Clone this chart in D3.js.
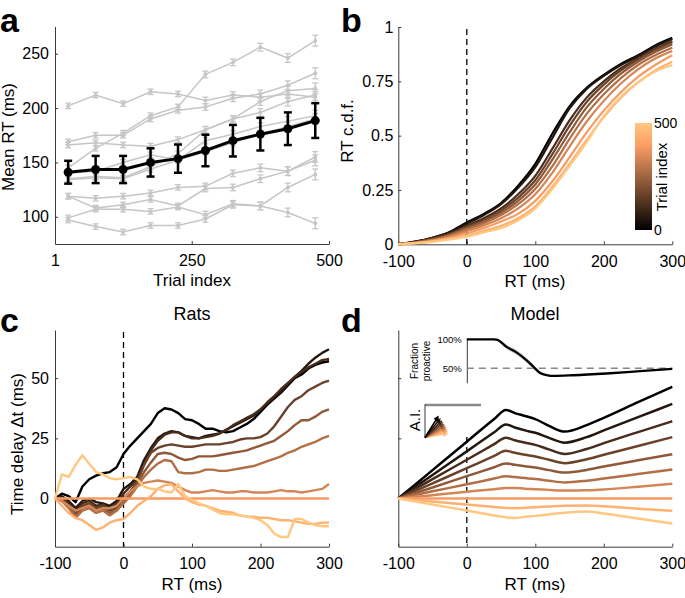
<!DOCTYPE html>
<html><head><meta charset="utf-8">
<script src="https://cdn.jsdelivr.net/npm/d3@7"></script>
<style>body{margin:0;background:#fff}svg{display:block}</style>
</head><body><svg id="fig" width="685" height="598"></svg>
<script>
// ---------------- DATA ----------------
// Panel a
const trialBins = [25, 75, 125, 175, 225, 275, 325, 375, 425, 475];
const trialTicks = [1, 250, 500];
const meanRTTicks = [100, 150, 200, 250];
const meanRT = [141, 143.5, 143.5, 150, 153.5, 161, 170, 176, 181, 188.5];
const meanErr = [10.5, 12.5, 12.5, 13, 13, 14.5, 14.5, 15, 15, 16];
const ratRT = [
  [202, 212, 204, 215, 213, 207, 212, 210, 213, 210],
  [145, 163, 177, 193, 201, 231, 242, 256, 246, 262],
  [169, 175, 175, 190, 198, 201, 209, 213, 221, 232],
  [166, 168, 166, 165, 171, 180, 190, 206, 216, 218],
  [135, 137, 136, 146, 158, 180, 190, 196, 206, 212],
  [140, 142, 150, 157, 152, 170, 176, 183, 188, 193],
  [134, 136, 135, 144, 152, 160, 168, 176, 183, 190],
  [119, 117, 119, 122, 127, 128, 140, 145, 142, 155],
  [119, 108, 111, 116, 110, 126, 127, 135, 142, 152],
  [99, 107, 107, 105, 109, 102, 112, 110, 104, 94],
  [97, 91, 86, 92, 92, 98, 111, 110, 127, 139]
];
const ratErr = [2.5, 2.5, 2.5, 2.5, 2.5, 3, 3, 3.5, 4, 5];

// Panel b
const cdfRT = [-100, -75, -50, -25, 0, 25, 50, 75, 100, 125, 150, 175, 200, 225, 250, 275, 300];
const rtTicks = [-100, 0, 100, 200, 300];
const cdfTicks = [0, 0.25, 0.5, 0.75, 1];
const cdfTickLabels = ["0", "0.25", "0.5", "0.75", "1"];
const cdf = [
  [0, 0.012, 0.03, 0.057, 0.10, 0.14, 0.19, 0.27, 0.37, 0.51, 0.635, 0.72, 0.78, 0.83, 0.87, 0.915, 0.95],
  [0, 0.012, 0.03, 0.055, 0.095, 0.135, 0.185, 0.26, 0.355, 0.49, 0.625, 0.715, 0.775, 0.825, 0.865, 0.91, 0.945],
  [0, 0.01, 0.027, 0.05, 0.085, 0.12, 0.165, 0.23, 0.315, 0.44, 0.57, 0.675, 0.75, 0.81, 0.855, 0.9, 0.935],
  [0, 0.01, 0.025, 0.047, 0.08, 0.112, 0.155, 0.215, 0.295, 0.415, 0.545, 0.655, 0.735, 0.80, 0.85, 0.895, 0.93],
  [0, 0.009, 0.023, 0.043, 0.075, 0.105, 0.145, 0.2, 0.275, 0.39, 0.515, 0.63, 0.715, 0.785, 0.84, 0.885, 0.92],
  [0, 0.008, 0.02, 0.04, 0.068, 0.097, 0.135, 0.185, 0.255, 0.36, 0.485, 0.6, 0.69, 0.765, 0.825, 0.87, 0.905],
  [0, 0.007, 0.018, 0.035, 0.06, 0.087, 0.12, 0.165, 0.23, 0.33, 0.45, 0.565, 0.66, 0.74, 0.805, 0.855, 0.89],
  [0, 0.006, 0.015, 0.03, 0.05, 0.075, 0.105, 0.14, 0.2, 0.29, 0.4, 0.515, 0.615, 0.70, 0.77, 0.825, 0.87],
  [0, 0.005, 0.013, 0.025, 0.04, 0.062, 0.085, 0.12, 0.175, 0.265, 0.37, 0.48, 0.585, 0.675, 0.745, 0.8, 0.84],
  [0, 0.005, 0.012, 0.022, 0.035, 0.055, 0.075, 0.11, 0.165, 0.255, 0.36, 0.47, 0.59, 0.68, 0.745, 0.795, 0.825]
];
const colorbarLabels = [0, 500];

// Panel c
const delayTicks = [0, 25, 50];
const ratDelay = [
  [0,2,1,-1.5,5,8,9.5,10.5,11,13,18.5,22,25,28,31,35.5,37.5,37,35.5,33,32.5,31,29,29,28,27.5,28,29.5,31,33,36,39,41.5,44,47,50,51.5,54,55.5,56.5,57],
  [0,1,-1,-4,-1,0,-1.5,-2,-3,-1,4,6,9,16,21,25,27,28,27.5,26,25.5,25,26,26.5,27,28.5,30,31.5,33,34.5,37,39.5,42,44.5,47.5,50.5,53,56,58.5,60.5,62],
  [0,0.5,-2,-5,-2,-1,-3,-2.5,-4,-2,2,5,8,14,20,24,26.5,27.5,27.5,26,25,25,25.5,26,27,28.5,30.5,32,33.5,35,37,40,42.5,45.5,48,50.5,52.5,54.5,56,57.5,58],
  [0,0,-3,-6,-3,-2,-4,-3,-5,-4,0,3,7,14,19,21,22,22.5,22,21.5,21.5,22,22.5,22.5,22.5,23,23.5,24.5,25,25,25.5,27,30,34,38,41,42.5,45,46.5,48,49],
  [0,-1,-3,-7,-4,-3,-5,-4,-6,-5,-1,2,6,11,15,18.5,19,18.5,17,16,16.5,17.5,17.5,17.5,18,18.5,19,19.5,20,21,22,23,24,26,28,30.5,32.5,32.5,34,36,37],
  [0,-1,-4,-8,-5,-4,-6,-5,-7,-5,-2,1,5,9,12,14.5,16,15.5,11,10.5,10.5,11,12,12,11.5,11.5,12,12.5,13,13.5,14.5,15.5,16.5,17.5,19,20,21.5,22.5,23.5,25,26],
  [0,-1,-3,-5,-4,-3,-5,-4,-4,-3,0,3,5,6.5,7,7.5,7,6.5,5,3.5,2.5,2.5,3,3.5,3,2.5,2.5,3,3,2.5,2.5,2.5,3,3.5,3,3,2.5,3,3.5,4,6],
  null, // reference group (flat at zero), drawn from ratRef
  [0,-3,-6,-8,-9,-11,-13,-12,-10,-9,-8.5,-6,-3,-1,1,4,5.5,6,3,0,-1.5,-2.5,-3,-4,-5,-5.5,-6,-7,-7.5,-7.5,-8,-8,-8.5,-9,-9,-9.5,-10,-10.5,-10.5,-10,-10],
  [0,10,9,14,18,14.5,11,10,8.5,8,8.5,9,8,5,4,4,3,2.5,6,1,-0.5,-2,-3,-4.5,-6,-6.5,-6.5,-7,-7.5,-8,-9,-11,-14.5,-16,-16,-8.5,-8.5,-10,-11,-11.5,-11.5]
];
const ratRefRT = [-100, 300];
const ratRef = [0, 0];

// Panel d
const modelRT = [-100, -50, 0, 40, 57, 70, 85, 100, 120, 143, 175, 200, 250, 300];
const modelDelay = [
  [0, 11.8, 23.6, 33.0, 36.8, 35.5, 34.3, 33.0, 30.2, 27.8, 30.5, 33.5, 40.0, 46.4],
  [0, 9.8, 19.6, 27.5, 30.8, 29.5, 28.3, 27.3, 25.2, 23.2, 25.5, 28.3, 33.8, 39.3],
  [0, 8.1, 16.1, 22.6, 25.3, 24.2, 23.2, 22.3, 20.4, 18.5, 20.6, 23.0, 27.6, 32.1],
  [0, 6.3, 12.6, 17.7, 19.8, 19.0, 18.2, 17.5, 16.1, 14.7, 16.3, 18.2, 21.8, 25.5],
  [0, 4.6, 9.3, 13.0, 14.6, 14.0, 13.4, 12.9, 11.8, 10.8, 11.9, 13.3, 15.9, 18.4],
  [0, 3.0, 5.9, 8.3, 9.3, 8.9, 8.5, 8.1, 7.4, 6.7, 7.4, 8.3, 10.2, 12.1],
  [0, 1.4, 2.8, 3.9, 4.4, 4.4, 4.1, 3.9, 3.6, 3.3, 3.4, 3.8, 4.9, 6.1],
  [0, 0, 0, 0, 0, 0, 0, 0, 0, 0, 0, 0, 0, 0],
  [0, -1.2, -2.5, -3.5, -3.9, -4.0, -3.8, -3.6, -3.3, -3.0, -2.9, -3.2, -4.2, -5.1],
  [0, -2.5, -5.0, -7.0, -7.8, -8.1, -7.6, -7.2, -6.6, -5.9, -5.4, -6.2, -8.3, -10.4]
];
const fracRT = [0, 40, 45, 58, 73, 87, 97, 107, 118, 126, 155, 204, 253, 300];
const fracProactive = [100, 100, 99, 87, 77, 64, 53, 42, 38, 37, 38, 41, 45, 49];
const fracLo = [100, 100, 97.5, 83, 72.5, 59.5, 49, 39.5, 37, 36.5, 37.5, 40.5, 44.5, 48.5];
const fracHi = [100, 100, 100, 91, 82, 68.5, 57, 44.5, 39, 37.5, 38.5, 41.5, 45.5, 49.5];
const fracTicks = [50, 100];
const fracTickLabels = ["50%", "100%"];
const aiAngles = [58, 51, 45, 40, 35, 30, 25, 20, 15, 10];   // degrees
const aiLengths = [26, 25, 24.5, 24, 24, 24, 24, 24, 24, 24];

// ---------------- DRAWING ----------------
const FONT = '"Liberation Sans", Arial, Helvetica, sans-serif';
const AX = "#3a3a3a";
const svg = d3.select("#fig").attr("font-family", FONT);
svg.append("rect").attr("width", 685).attr("height", 598).attr("fill", "#fff");

function copper(t) { return d3.rgb(Math.min(1, 1.25 * t) * 255, 0.7812 * t * 255, 0.4975 * t * 255).formatHex(); }
const lineColors = d3.range(10).map(i => copper(i / 9));

function styleAxis(a, fs) {
  a.select(".domain").attr("stroke", AX).attr("stroke-width", 1);
  a.selectAll(".tick line").attr("stroke", AX);
  a.selectAll(".tick text").attr("fill", "#000").attr("font-size", fs).attr("font-family", FONT);
}
function xAxis(scale, y, ticks, fmt) {
  const a = svg.append("g").attr("transform", `translate(0,${y})`)
    .call(d3.axisBottom(scale).tickValues(ticks).tickFormat(fmt).tickSizeInner(-3).tickSizeOuter(0).tickPadding(11));
  styleAxis(a, 16); return a;
}
function yAxis(scale, x, ticks, fmt, pad, fs) {
  const a = svg.append("g").attr("transform", `translate(${x},0)`)
    .call(d3.axisLeft(scale).tickValues(ticks).tickFormat(fmt).tickSizeInner(-3).tickSizeOuter(0).tickPadding(pad));
  styleAxis(a, fs || 16); return a;
}
function text(x, y, s, o) {
  o = o || {};
  const t = svg.append("text").attr("x", x).attr("y", y).text(s)
    .attr("font-size", o.size || 17).attr("text-anchor", o.anchor || "middle")
    .attr("font-weight", o.bold ? "bold" : "normal").attr("fill", "#000");
  return t;
}
function vtext(x, y, s, size) {
  return svg.append("text").attr("transform", `translate(${x},${y}) rotate(-90)`).text(s)
    .attr("font-size", size || 17).attr("text-anchor", "middle").attr("fill", "#000");
}

// ===== Panel a =====
const xA = d3.scaleLinear([1, 500], [55, 329]);
const yA = d3.scaleLinear([75, 275], [244, 26.5]);
xAxis(xA, 244, trialTicks, d => String(d));
yAxis(yA, 55, meanRTTicks, d => String(d), 6);
text(192, 286, "Trial index");
vtext(14, 137, "Mean RT (ms)");
text(0, 32, "a", { size: 34, bold: true, anchor: "start" });

const lineA = d3.line().x((d, i) => xA(trialBins[i])).y(d => yA(d));
function errBars(g, vals, errs, color, w, cap) {
  vals.forEach((v, i) => {
    const x = xA(trialBins[i]);
    g.append("line").attr("x1", x).attr("x2", x).attr("y1", yA(v - errs[i])).attr("y2", yA(v + errs[i])).attr("stroke", color).attr("stroke-width", w);
    [v - errs[i], v + errs[i]].forEach(e => g.append("line").attr("x1", x - cap).attr("x2", x + cap).attr("y1", yA(e)).attr("y2", yA(e)).attr("stroke", color).attr("stroke-width", w));
  });
}
const gGray = svg.append("g");
ratRT.forEach(r => {
  gGray.append("path").attr("d", lineA(r)).attr("fill", "none").attr("stroke", "#c6c6c6").attr("stroke-width", 1.5);
  errBars(gGray, r, ratErr, "#c6c6c6", 1.3, 3);
  r.forEach((v, i) => gGray.append("circle").attr("cx", xA(trialBins[i])).attr("cy", yA(v)).attr("r", 2).attr("fill", "#c6c6c6"));
});
const gMean = svg.append("g");
gMean.append("path").attr("d", lineA(meanRT)).attr("fill", "none").attr("stroke", "#000").attr("stroke-width", 3);
errBars(gMean, meanRT, meanErr, "#000", 2.5, 4);
meanRT.forEach((v, i) => gMean.append("circle").attr("cx", xA(trialBins[i])).attr("cy", yA(v)).attr("r", 4.5).attr("fill", "#000"));

// ===== Panel b =====
const xB = d3.scaleLinear([-100, 300], [398.3, 672.3]);
const yB = d3.scaleLinear([0, 1], [244.3, 27]);
xAxis(xB, 244.3, rtTicks, d => String(d));
yAxis(yB, 398.3, cdfTicks, (d, i) => cdfTickLabels[i], 5);
text(535, 287, "RT (ms)");
vtext(353, 131, "RT c.d.f.");
text(341, 32, "b", { size: 34, bold: true, anchor: "start" });
svg.append("line").attr("x1", xB(0)).attr("x2", xB(0)).attr("y1", 29).attr("y2", yB(0))
  .attr("stroke", "#000").attr("stroke-width", 1.3).attr("stroke-dasharray", "6,4");
const lineB = d3.line().x((d, i) => xB(cdfRT[i])).y(d => yB(d)).curve(d3.curveMonotoneX);
cdf.forEach((c, i) => svg.append("path").attr("d", lineB(c)).attr("fill", "none").attr("stroke", lineColors[i]).attr("stroke-width", 2.2));

// colorbar
const defs = svg.append("defs");
const grad = defs.append("linearGradient").attr("id", "copperGrad").attr("x1", 0).attr("y1", 1).attr("x2", 0).attr("y2", 0);
d3.range(0, 1.0001, 0.1).forEach(t => grad.append("stop").attr("offset", t).attr("stop-color", copper(t)));
const yCb = d3.scaleLinear([0, 500], [230, 123]);
svg.append("rect").attr("x", 635).attr("y", yCb(500)).attr("width", 17).attr("height", yCb(0) - yCb(500)).attr("fill", "url(#copperGrad)");
colorbarLabels.forEach(v => text(654, yCb(v) + 5, String(v), { size: 14, anchor: "start" }));
vtext(667, 177, "Trial index", 15);

// ===== Panel c =====
const xC = d3.scaleLinear([-100, 300], [55, 329]);
const yC = d3.scaleLinear([-20, 70], [546.7, 330]);
xAxis(xC, 546.7, rtTicks, d => String(d));
yAxis(yC, 55, delayTicks, d => String(d), 6);
text(192, 590, "RT (ms)");
text(192, 320, "Rats", { size: 18 });
vtext(23, 444, "Time delay \u0394t (ms)");
text(0, 332, "c", { size: 34, bold: true, anchor: "start" });
svg.append("line").attr("x1", xC(0)).attr("x2", xC(0)).attr("y1", 332).attr("y2", 546.7)
  .attr("stroke", "#000").attr("stroke-width", 1.3).attr("stroke-dasharray", "6,4");
const lineC = d3.line().x((d, i) => xC(-100 + 10 * i)).y(d => yC(d));
ratDelay.forEach((r, i) => {
  if (r === null) {
    svg.append("path").attr("d", d3.line().x((d, j) => xC(ratRefRT[j])).y(d => yC(d))(ratRef))
      .attr("fill", "none").attr("stroke", lineColors[i]).attr("stroke-width", 2.6);
  } else {
    svg.append("path").attr("d", lineC(r)).attr("fill", "none").attr("stroke", lineColors[i]).attr("stroke-width", 2.4).attr("stroke-linejoin", "round");
  }
});

// ===== Panel d =====
const xD = d3.scaleLinear([-100, 300], [398.3, 672.3]);
const yD = d3.scaleLinear([-20, 70], [546.7, 330]);
xAxis(xD, 546.7, rtTicks, d => String(d));
yAxis(yD, 398.3, [25, 50], () => "", 6);
text(535, 590, "RT (ms)");
text(535, 320, "Model", { size: 18 });
text(341, 332, "d", { size: 34, bold: true, anchor: "start" });
svg.append("line").attr("x1", xD(0)).attr("x2", xD(0)).attr("y1", 437).attr("y2", 546.7)
  .attr("stroke", "#000").attr("stroke-width", 1.3).attr("stroke-dasharray", "6,4");
const lineD = d3.line().x((d, i) => xD(modelRT[i])).y(d => yD(d)).curve(d3.curveMonotoneX);
modelDelay.forEach((m, i) => svg.append("path").attr("d", lineD(m)).attr("fill", "none").attr("stroke", lineColors[i]).attr("stroke-width", 2.5));

// inset: fraction proactive
const yI = d3.scaleLinear([25, 100], [382.8, 339.3]);
const ai = yAxis(yI, xD(0), fracTicks, (d, i) => fracTickLabels[i], 5, 9.5);
ai.selectAll(".tick line").remove();
svg.append("line").attr("x1", xD(0)).attr("x2", xD(300)).attr("y1", yI(50)).attr("y2", yI(50))
  .attr("stroke", "#888").attr("stroke-width", 1.4).attr("stroke-dasharray", "7,5");
svg.append("path").attr("d", d3.area().x((d, i) => xD(fracRT[i])).y0((d, i) => yI(fracLo[i])).y1(d => yI(d[1])).curve(d3.curveMonotoneX)(fracHi.map((h, i) => [i, h])))
  .attr("fill", "#d9d9d9");
svg.append("path").attr("d", d3.line().x((d, i) => xD(fracRT[i])).y(d => yI(d)).curve(d3.curveMonotoneX)(fracProactive))
  .attr("fill", "none").attr("stroke", "#000").attr("stroke-width", 2.3);
vtext(418, 361, "Fraction", 10);
vtext(430, 361, "proactive", 10);

// inset: A.I. arrows
const aiOrigin = [425, 437.5];
svg.append("line").attr("x1", 425).attr("x2", 481).attr("y1", 405).attr("y2", 405).attr("stroke", "#8a8a8a").attr("stroke-width", 2.5);
svg.append("line").attr("x1", 425).attr("x2", 425).attr("y1", 404).attr("y2", 438).attr("stroke", AX).attr("stroke-width", 1);
vtext(420, 420, "A.I.", 15);
aiAngles.slice().reverse().forEach((ang, k) => {
  const i = aiAngles.length - 1 - k;
  const a = ang * Math.PI / 180, L = aiLengths[i];
  const tx = aiOrigin[0] + L * Math.cos(a), ty = aiOrigin[1] - L * Math.sin(a);
  const hl = 5.5, hw = 2.8;
  const bx = tx - hl * Math.cos(a), by = ty + hl * Math.sin(a);
  const px = Math.sin(a) * hw, py = Math.cos(a) * hw;
  svg.append("line").attr("x1", aiOrigin[0]).attr("y1", aiOrigin[1]).attr("x2", bx).attr("y2", by).attr("stroke", lineColors[i]).attr("stroke-width", 1.6);
  svg.append("path").attr("d", `M${tx},${ty}L${bx + px},${by + py}L${bx - px},${by - py}Z`).attr("fill", lineColors[i]);
});
</script></body></html>
